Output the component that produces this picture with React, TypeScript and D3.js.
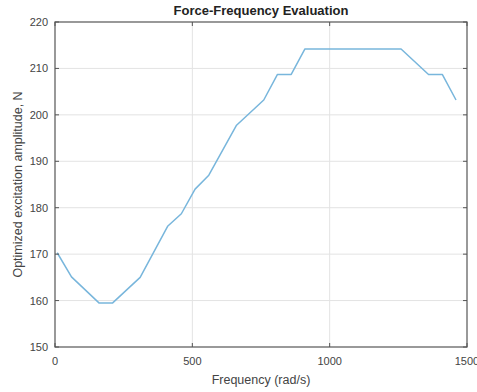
import React from 'react';
import * as d3 from 'd3';

// values
const frequency = [8, 60, 160, 210, 310, 410, 460, 510, 560, 660, 760, 810, 860, 910, 1260, 1360, 1410, 1460];
const amplitude = [170.3, 165.1, 159.5, 159.5, 165.0, 176.0, 178.7, 184.0, 187.0, 197.7, 203.2, 208.7, 208.7, 214.2, 214.2, 208.7, 208.7, 203.2];
const xTicks = [0, 500, 1000, 1500];
const yTicks = [150, 160, 170, 180, 190, 200, 210, 220];

const W = 477;
const H = 392;
const plot = { left: 55, right: 467, top: 22, bottom: 347 };
const font = 'Arial, "Liberation Sans", Helvetica, sans-serif';

export default function App() {
  const x = d3.scaleLinear().domain([0, 1500]).range([plot.left, plot.right]);
  const y = d3.scaleLinear().domain([150, 220]).range([plot.bottom, plot.top]);
  const line = d3.line<number>()
    .x((_, i) => x(frequency[i]))
    .y(d => y(d));
  const tickLen = 4;

  return (
    <svg width={W} height={H} style={{ position: 'fixed', left: 0, top: 0, background: '#fff' }}>
      <rect x={0} y={0} width={W} height={H} fill="#fff" />
      {/* grid */}
      {xTicks.slice(1, -1).map(t => (
        <line key={'gx' + t} x1={x(t)} x2={x(t)} y1={plot.top} y2={plot.bottom} stroke="#e3e3e3" strokeWidth={1} />
      ))}
      {yTicks.slice(1, -1).map(t => (
        <line key={'gy' + t} x1={plot.left} x2={plot.right} y1={y(t)} y2={y(t)} stroke="#e3e3e3" strokeWidth={1} />
      ))}
      <path d={line(amplitude) || ''} fill="none" stroke="#78b6dc" strokeWidth={1.5} strokeLinejoin="round" />
      {/* box + ticks */}
      <rect x={plot.left} y={plot.top} width={plot.right - plot.left} height={plot.bottom - plot.top}
        fill="none" stroke="#555" strokeWidth={1.2} />
      {xTicks.map(t => (
        <g key={'tx' + t}>
          <line x1={x(t)} x2={x(t)} y1={plot.bottom} y2={plot.bottom - tickLen} stroke="#555" />
          <line x1={x(t)} x2={x(t)} y1={plot.top} y2={plot.top + tickLen} stroke="#555" />
          <text x={x(t)} y={plot.bottom + 18} textAnchor="middle" fontFamily={font} fontSize={11} fill="#444">{t}</text>
        </g>
      ))}
      {yTicks.map(t => (
        <g key={'ty' + t}>
          <line x1={plot.left} x2={plot.left + tickLen} y1={y(t)} y2={y(t)} stroke="#555" />
          <line x1={plot.right} x2={plot.right - tickLen} y1={y(t)} y2={y(t)} stroke="#555" />
          <text x={plot.left - 7} y={y(t) + 4} textAnchor="end" fontFamily={font} fontSize={11} fill="#444">{t}</text>
        </g>
      ))}
      <text x={(plot.left + plot.right) / 2} y={15} textAnchor="middle" fontFamily={font} fontSize={13}
        fontWeight="bold" fill="#222">Force-Frequency Evaluation</text>
      <text x={(plot.left + plot.right) / 2} y={384} textAnchor="middle" fontFamily={font} fontSize={12.5}
        fill="#444">Frequency (rad/s)</text>
      <text transform={`translate(22,${(plot.top + plot.bottom) / 2}) rotate(-90)`} textAnchor="middle"
        fontFamily={font} fontSize={12.5} fill="#444">Optimized excitation amplitude, N</text>
    </svg>
  );
}
